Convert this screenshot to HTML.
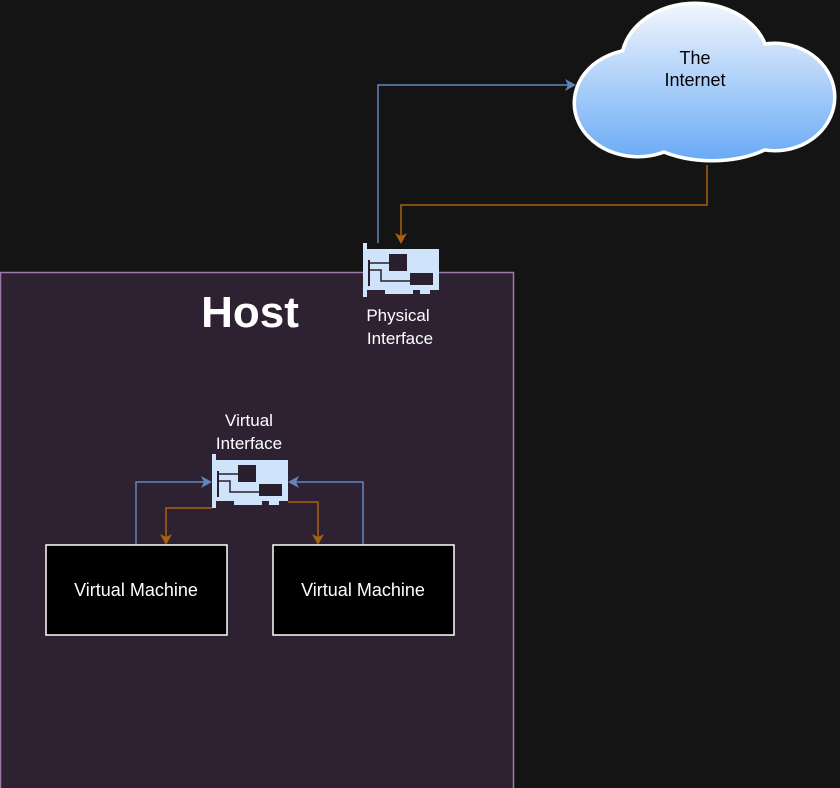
<!DOCTYPE html>
<html><head><meta charset="utf-8"><style>
html,body{margin:0;padding:0;background:#141414;}
svg{display:block;font-family:"Liberation Sans",Arial,sans-serif;}
</style></head><body>
<svg width="840" height="788" viewBox="0 0 840 788" xmlns="http://www.w3.org/2000/svg">
<defs>
<linearGradient id="cg" gradientUnits="userSpaceOnUse" x1="0" y1="0" x2="0" y2="160">
<stop offset="0" stop-color="#f4f8fd"/><stop offset="1" stop-color="#6aaaf5"/>
</linearGradient>
<g id="nic">
<path d="M0,0 h4 v6 h72 v41 h-9 v4 h-10 v-4 h-7 v4 h-28 v-4 h-18 v7 h-4 z" fill="#cfe3fb"/>
<rect x="26" y="11" width="18" height="17" fill="#2a1f2c"/>
<rect x="47" y="30" width="23" height="12" fill="#2a1f2c"/>
<rect x="5" y="17" width="2" height="26" fill="#2a1f2c"/>
<path d="M6,20 H26 M6,27 H18 V38 H47" stroke="#2a1f2c" stroke-width="1.5" fill="none"/>
</g>
</defs>
<rect x="0.5" y="272.5" width="513" height="520" fill="#2e2232" stroke="#9b7aa8" stroke-width="1.5"/>
<text x="250" y="327" text-anchor="middle" font-size="44" font-weight="bold" fill="#fff">Host</text>

<!-- cloud -->
<g stroke="#fff" stroke-width="7" fill="#fff">
<ellipse cx="638" cy="103" rx="62" ry="52"/>
<ellipse cx="695" cy="62" rx="72" ry="57"/>
<ellipse cx="775" cy="97" rx="58" ry="52"/>
<ellipse cx="712" cy="122" rx="74" ry="37"/>
</g>
<g fill="url(#cg)">
<ellipse cx="638" cy="103" rx="62" ry="52"/>
<ellipse cx="695" cy="62" rx="72" ry="57"/>
<ellipse cx="775" cy="97" rx="58" ry="52"/>
<ellipse cx="712" cy="122" rx="74" ry="37"/>
</g>
<text x="695" y="64" text-anchor="middle" font-size="18" fill="#000">The</text>
<text x="695" y="86" text-anchor="middle" font-size="18" fill="#000">Internet</text>

<!-- connectors -->
<g fill="none" stroke-width="1.5">
<path d="M378,243 V85 H568" stroke="#6186bb"/>
<path d="M707,165 V205 H401 V236" stroke="#a8620e"/>
<path d="M136,545 V482 H205" stroke="#6186bb"/>
<path d="M212,508 H166 V538" stroke="#a8620e"/>
<path d="M288,502 H318 V538" stroke="#a8620e"/>
<path d="M363,545 V482 H295" stroke="#6186bb"/>
</g>
<path d="M576,85 l-11,-6 l3,6 l-3,6 z" fill="#6186bb"/>
<path d="M401,244 l-6,-11 l6,3 l6,-3 z" fill="#a8620e"/>
<path d="M212,482 l-11,-6 l3,6 l-3,6 z" fill="#6186bb"/>
<path d="M288,482 l11,-6 l-3,6 l3,6 z" fill="#6186bb"/>
<path d="M166,545 l-6,-11 l6,3 l6,-3 z" fill="#a8620e"/>
<path d="M318,545 l-6,-11 l6,3 l6,-3 z" fill="#a8620e"/>

<use href="#nic" x="363" y="243"/>
<use href="#nic" x="212" y="454"/>
<text x="398" y="321" text-anchor="middle" font-size="17" fill="#fff">Physical</text>
<text x="400" y="344" text-anchor="middle" font-size="17" fill="#fff">Interface</text>
<text x="249" y="426" text-anchor="middle" font-size="17" fill="#fff">Virtual</text>
<text x="249" y="449" text-anchor="middle" font-size="17" fill="#fff">Interface</text>

<rect x="46" y="545" width="181" height="90" fill="#000" stroke="#fff" stroke-width="1.5"/>
<rect x="273" y="545" width="181" height="90" fill="#000" stroke="#fff" stroke-width="1.5"/>
<text x="136" y="596" text-anchor="middle" font-size="18" fill="#fff">Virtual Machine</text>
<text x="363" y="596" text-anchor="middle" font-size="18" fill="#fff">Virtual Machine</text>
</svg>
</body></html>
